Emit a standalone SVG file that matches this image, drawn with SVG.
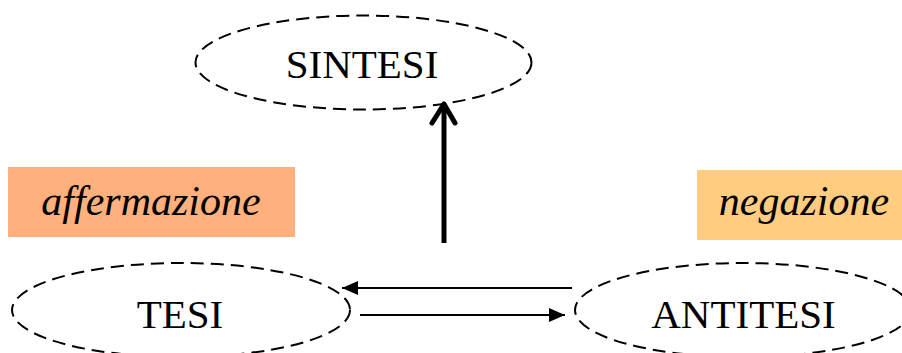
<svg xmlns="http://www.w3.org/2000/svg" width="902" height="353" viewBox="0 0 902 353">
<style>
.node ellipse{fill:none;stroke:#000;stroke-width:2;stroke-dasharray:13 7}
.lbl{font-family:"Liberation Serif","Times New Roman",serif;font-size:41px;fill:#000;text-anchor:middle}
.tag{font-family:"Liberation Serif","Times New Roman",serif;font-size:42px;font-style:italic;fill:#000;text-anchor:middle}
.thin{stroke:#000;stroke-width:2;fill:none}
</style>
<defs>
<marker id="ah" markerUnits="userSpaceOnUse" markerWidth="16" markerHeight="14" refX="16" refY="7" orient="auto">
<path d="M0,0 L16,7 L0,14 Z" fill="#000"/>
</marker>
</defs>
<rect width="902" height="353" fill="#fff"/>
<g id="affermazione">
<rect x="8" y="167" width="287" height="70" fill="#FFB07C"/>
<text class="tag" x="151" y="215">affermazione</text>
</g>
<g id="negazione">
<rect x="697" y="170" width="205" height="70" fill="#FFCC80"/>
<text class="tag" x="804" y="215">negazione</text>
</g>
<g id="sintesi" class="node">
<ellipse cx="363.5" cy="62.5" rx="168" ry="47"/>
<text class="lbl" x="362" y="78">SINTESI</text>
</g>
<g id="tesi" class="node">
<ellipse cx="181" cy="310" rx="169" ry="47"/>
<text class="lbl" x="180" y="328">TESI</text>
</g>
<g id="antitesi" class="node">
<ellipse cx="743" cy="310" rx="168" ry="47"/>
<text class="lbl" x="743.5" y="328">ANTITESI</text>
</g>
<g id="connectors">
<line class="thin" x1="572" y1="288" x2="342" y2="288" marker-end="url(#ah)"/>
<line class="thin" x1="360" y1="315" x2="565" y2="315" marker-end="url(#ah)"/>
<line x1="444" y1="243" x2="444" y2="106" stroke="#000" stroke-width="5"/>
<polyline points="432,123 444,104 455,123" fill="none" stroke="#000" stroke-width="5" stroke-linecap="round" stroke-linejoin="round"/>
</g>
</svg>
